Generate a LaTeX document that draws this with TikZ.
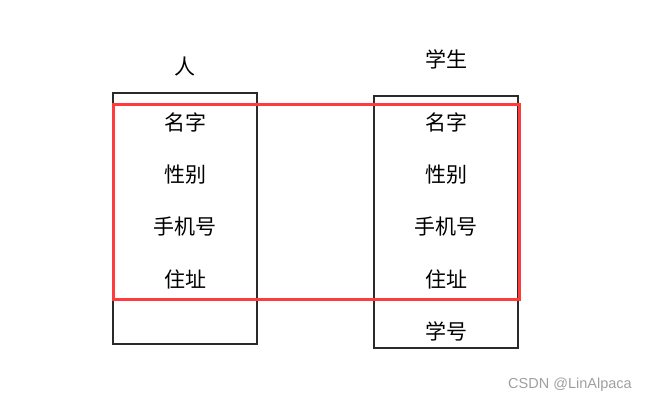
\documentclass[tikz,border=0pt]{standalone}
\usepackage{fontspec}
\newfontfamily\cjk{Noto Sans CJK SC}
\setsansfont{Liberation Sans}
\usetikzlibrary{positioning}
\definecolor{hlred}{HTML}{FF3B3B}
\definecolor{boxline}{HTML}{2A2A2A}

\begin{document}
\begin{tikzpicture}[
    x=1pt, y=-1pt,
    table/.style={draw=boxline, line width=1.5pt, rectangle, minimum width=144pt, inner sep=0pt},
    field/.style={font=\cjk\fontsize{21}{25}\selectfont, inner sep=0pt},
    title/.style={font=\cjk\fontsize{21}{25}\selectfont, inner sep=0pt}
]
    \useasboundingbox (0,0) rectangle (650,403);

    % two tables
    \node[table, minimum height=251pt] (person) at (185,218.5) {};
    \node[table, minimum height=252pt] (student) at (446,222) {};
    \node[title] (persontitle) at (185,67) {人};
    \node[title] (studenttitle) at (446,59) {学生};

    % fields of 人
    \node[field] (pname) at (185,122) {名字};
    \node[field] (psex) at (185,175) {性别};
    \node[field] (pphone) at (185,227) {手机号};
    \node[field] (paddr) at (185,279) {住址};

    % fields of 学生
    \node[field] (sname) at (446,122) {名字};
    \node[field] (ssex) at (446,175) {性别};
    \node[field] (sphone) at (446,227) {手机号};
    \node[field] (saddr) at (446,279) {住址};
    \node[field] (sid) at (446,331) {学号};

    % shared fields
    \node[draw=hlred, line width=3pt, rectangle, minimum width=406pt, minimum height=194pt, inner sep=0pt] (shared) at (316,202) {};

    \node[font=\sffamily\fontsize{14.5}{17}\selectfont, text=gray!75, inner sep=0pt] (mark) at (570,385) {CSDN @LinAlpaca};
\end{tikzpicture}
\end{document}
